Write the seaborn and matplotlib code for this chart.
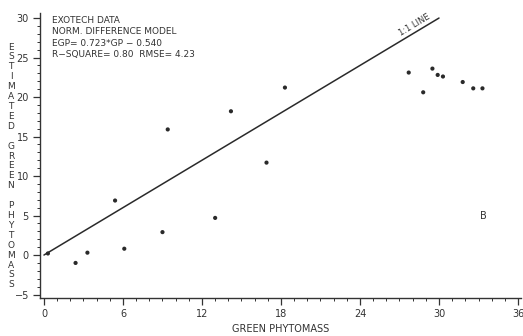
import matplotlib
matplotlib.use('Agg')
import matplotlib.pyplot as plt
import pandas as pd
import seaborn as sns
from matplotlib.ticker import MultipleLocator

green_phytomass = [0.3, 2.4, 3.3, 5.4, 6.1, 9.0, 9.4, 13.0, 14.2, 16.9, 18.3,
                   27.7, 28.8, 29.5, 29.9, 30.3, 31.8, 32.6, 33.3]
estimated_phytomass = [0.2, -1.0, 0.3, 6.9, 0.8, 2.9, 15.9, 4.7, 18.2, 11.7, 21.2,
                       23.1, 20.6, 23.6, 22.8, 22.6, 21.9, 21.1, 21.1]
line_x = [0, 30]
line_y = [0, 30]
x_ticks = [0, 6, 12, 18, 24, 30, 36]
y_ticks = [-5, 0, 5, 10, 15, 20, 25, 30]
info_lines = ['EXOTECH DATA', 'NORM. DIFFERENCE MODEL',
              'EGP= 0.723*GP \u2212 0.540', 'R\u2212SQUARE= 0.80  RMSE= 4.23']

df = pd.DataFrame({'gp': green_phytomass, 'egp': estimated_phytomass})
df_line = pd.DataFrame({'x': line_x, 'y': line_y})

sns.set_style('ticks')
plt.rcParams['font.family'] = ['DejaVu Sans']

fig = plt.figure(figsize=(5.23, 3.36), dpi=100)
ax = fig.add_axes([0.0765, 0.114, 0.919, 0.8464])

# Linha 1:1 e pontos
sns.lineplot(x='x', y='y', data=df_line, ax=ax, color='#2a2a2a', linewidth=1.1)
sns.scatterplot(x='gp', y='egp', data=df, ax=ax, color='#2a2a2a', s=9,
                edgecolor='none', marker='o')

ax.set_xlim(-0.3, 36.2)
ax.set_ylim(-5.4, 30.6)
ax.set_xticks(x_ticks)
ax.set_yticks(y_ticks)
ax.xaxis.set_minor_locator(MultipleLocator(1))
ax.yaxis.set_minor_locator(MultipleLocator(1))
ax.tick_params(which='major', length=5, width=0.9, labelsize=7, color='#333333',
               labelcolor='#333333', pad=3)
ax.tick_params(which='minor', length=2.5, width=0.7, color='#333333')
sns.despine(ax=ax)
for s in ['left', 'bottom']:
    ax.spines[s].set_linewidth(1.0)
    ax.spines[s].set_color('#333333')

ax.set_xlabel('GREEN PHYTOMASS', fontsize=7, color='#333333', labelpad=4)
ax.set_ylabel('')

# Rótulo do eixo y com letras empilhadas
ylabel = 'ESTIMATED GREEN PHYTOMASS'
fig.text(11 / 523, 0.506, '\n'.join(ylabel), fontsize=6.5, color='#333333',
         ha='center', va='center', linespacing=1.13)

# Bloco de informações
ax.text(0.6, 30.3, '\n'.join(info_lines), fontsize=6.5, color='#333333',
        ha='left', va='top', linespacing=1.35)

ax.text(28.3, 28.7, '1:1 LINE', fontsize=6, color='#333333', rotation=31,
        rotation_mode='anchor', ha='center', va='bottom')
ax.text(33.4, 4.9, 'B', fontsize=7, color='#333333', ha='center', va='center')

fig.savefig('out.png', dpi=100)
